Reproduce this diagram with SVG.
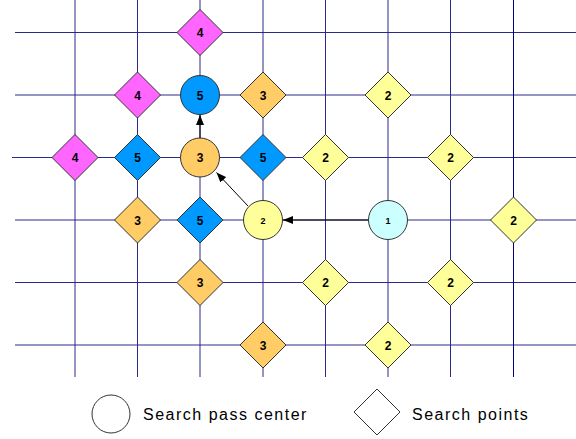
<svg xmlns="http://www.w3.org/2000/svg" width="576" height="439" viewBox="0 0 576 439">
<style>
.g{stroke:#2a2a8c;stroke-width:1;fill:none}
.d{stroke:#333;stroke-width:1}
.m{fill:#ff66ff}.b{fill:#0099ff}.o{fill:#ffcc66}.y{fill:#ffff99}.c{fill:#ccffff}
.t{font-family:"Liberation Sans",Arial,sans-serif;font-weight:bold;font-size:12px;text-anchor:middle;fill:#000}
.s{font-size:9px}
.l{font-family:"Liberation Sans",Arial,sans-serif;font-size:16px;letter-spacing:1.5px;fill:#000}
.a{stroke:#000;stroke-width:1;fill:none;marker-end:url(#ah)}
</style>
<defs>
<marker id="ah" viewBox="0 0 10 8" refX="10" refY="4" markerWidth="10" markerHeight="8" markerUnits="userSpaceOnUse" orient="auto">
<path d="M0,0 L10,4 L0,8 z" fill="#000"/>
</marker>
<path id="dm" d="M0,-23 L23,0 L0,23 L-23,0 z"/>
</defs>
<rect width="576" height="439" fill="#fff"/>
<g id="grid" class="g">
<path d="M15,32.5H576M15,95H576M12,157.5H576M15,220H576M15,282.5H576M15,345H576"/>
<path d="M75,0V377M137.5,0V377M200,0V377M263,0V377M325.5,0V377M388,0V377M450.5,0V377"/>
<path d="M513.5,0V377" stroke="#000080"/>
</g>
<g id="connectors">
<line class="a" x1="368" y1="220" x2="283" y2="220"/>
<line class="a" x1="248" y1="206" x2="216.5" y2="172.5"/>
<line class="a" x1="200" y1="138" x2="200" y2="115"/>
</g>
<g id="n1"><use href="#dm" x="200" y="32.5" class="m d"/><text class="t" x="200" y="37">4</text></g>
<g id="n2"><use href="#dm" x="137.5" y="95" class="m d"/><text class="t" x="137.5" y="99.5">4</text></g>
<g id="n3"><circle cx="200" cy="95" r="19.5" class="b d"/><text class="t" x="200" y="99.5">5</text></g>
<g id="n4"><use href="#dm" x="263" y="95" class="o d"/><text class="t" x="263" y="99.5">3</text></g>
<g id="n5"><use href="#dm" x="388" y="95" class="y d"/><text class="t" x="388" y="99.5">2</text></g>
<g id="n6"><use href="#dm" x="75" y="157.5" class="m d"/><text class="t" x="75" y="162">4</text></g>
<g id="n7"><use href="#dm" x="137.5" y="157.5" class="b d"/><text class="t" x="137.5" y="162">5</text></g>
<g id="n8"><circle cx="200" cy="157.5" r="19.5" class="o d"/><text class="t" x="200" y="162">3</text></g>
<g id="n9"><use href="#dm" x="263" y="157.5" class="b d"/><text class="t" x="263" y="162">5</text></g>
<g id="n10"><use href="#dm" x="325.5" y="157.5" class="y d"/><text class="t" x="325.5" y="162">2</text></g>
<g id="n11"><use href="#dm" x="450.5" y="157.5" class="y d"/><text class="t" x="450.5" y="162">2</text></g>
<g id="n12"><use href="#dm" x="137.5" y="220" class="o d"/><text class="t" x="137.5" y="224.5">3</text></g>
<g id="n13"><use href="#dm" x="200" y="220" class="b d"/><text class="t" x="200" y="224.5">5</text></g>
<g id="n14"><circle cx="263" cy="220" r="19.5" class="y d"/><text class="t s" x="263" y="223.5">2</text></g>
<g id="n15"><circle cx="388" cy="220" r="19.5" class="c d"/><text class="t s" x="388" y="223.5">1</text></g>
<g id="n16"><use href="#dm" x="513.5" y="220" class="y d"/><text class="t" x="513.5" y="224.5">2</text></g>
<g id="n17"><use href="#dm" x="200" y="282.5" class="o d"/><text class="t" x="200" y="287">3</text></g>
<g id="n18"><use href="#dm" x="325.5" y="282.5" class="y d"/><text class="t" x="325.5" y="287">2</text></g>
<g id="n19"><use href="#dm" x="450.5" y="282.5" class="y d"/><text class="t" x="450.5" y="287">2</text></g>
<g id="n20"><use href="#dm" x="263" y="345" class="o d"/><text class="t" x="263" y="349.5">3</text></g>
<g id="n21"><use href="#dm" x="388" y="345" class="y d"/><text class="t" x="388" y="349.5">2</text></g>
<g id="legend">
<circle cx="111" cy="414" r="19" fill="#fff" stroke="#333"/>
<text class="l" x="143" y="420">Search pass center</text>
<use href="#dm" x="377" y="412" fill="#fff" stroke="#333"/>
<text class="l" x="412" y="420">Search points</text>
</g>
</svg>
